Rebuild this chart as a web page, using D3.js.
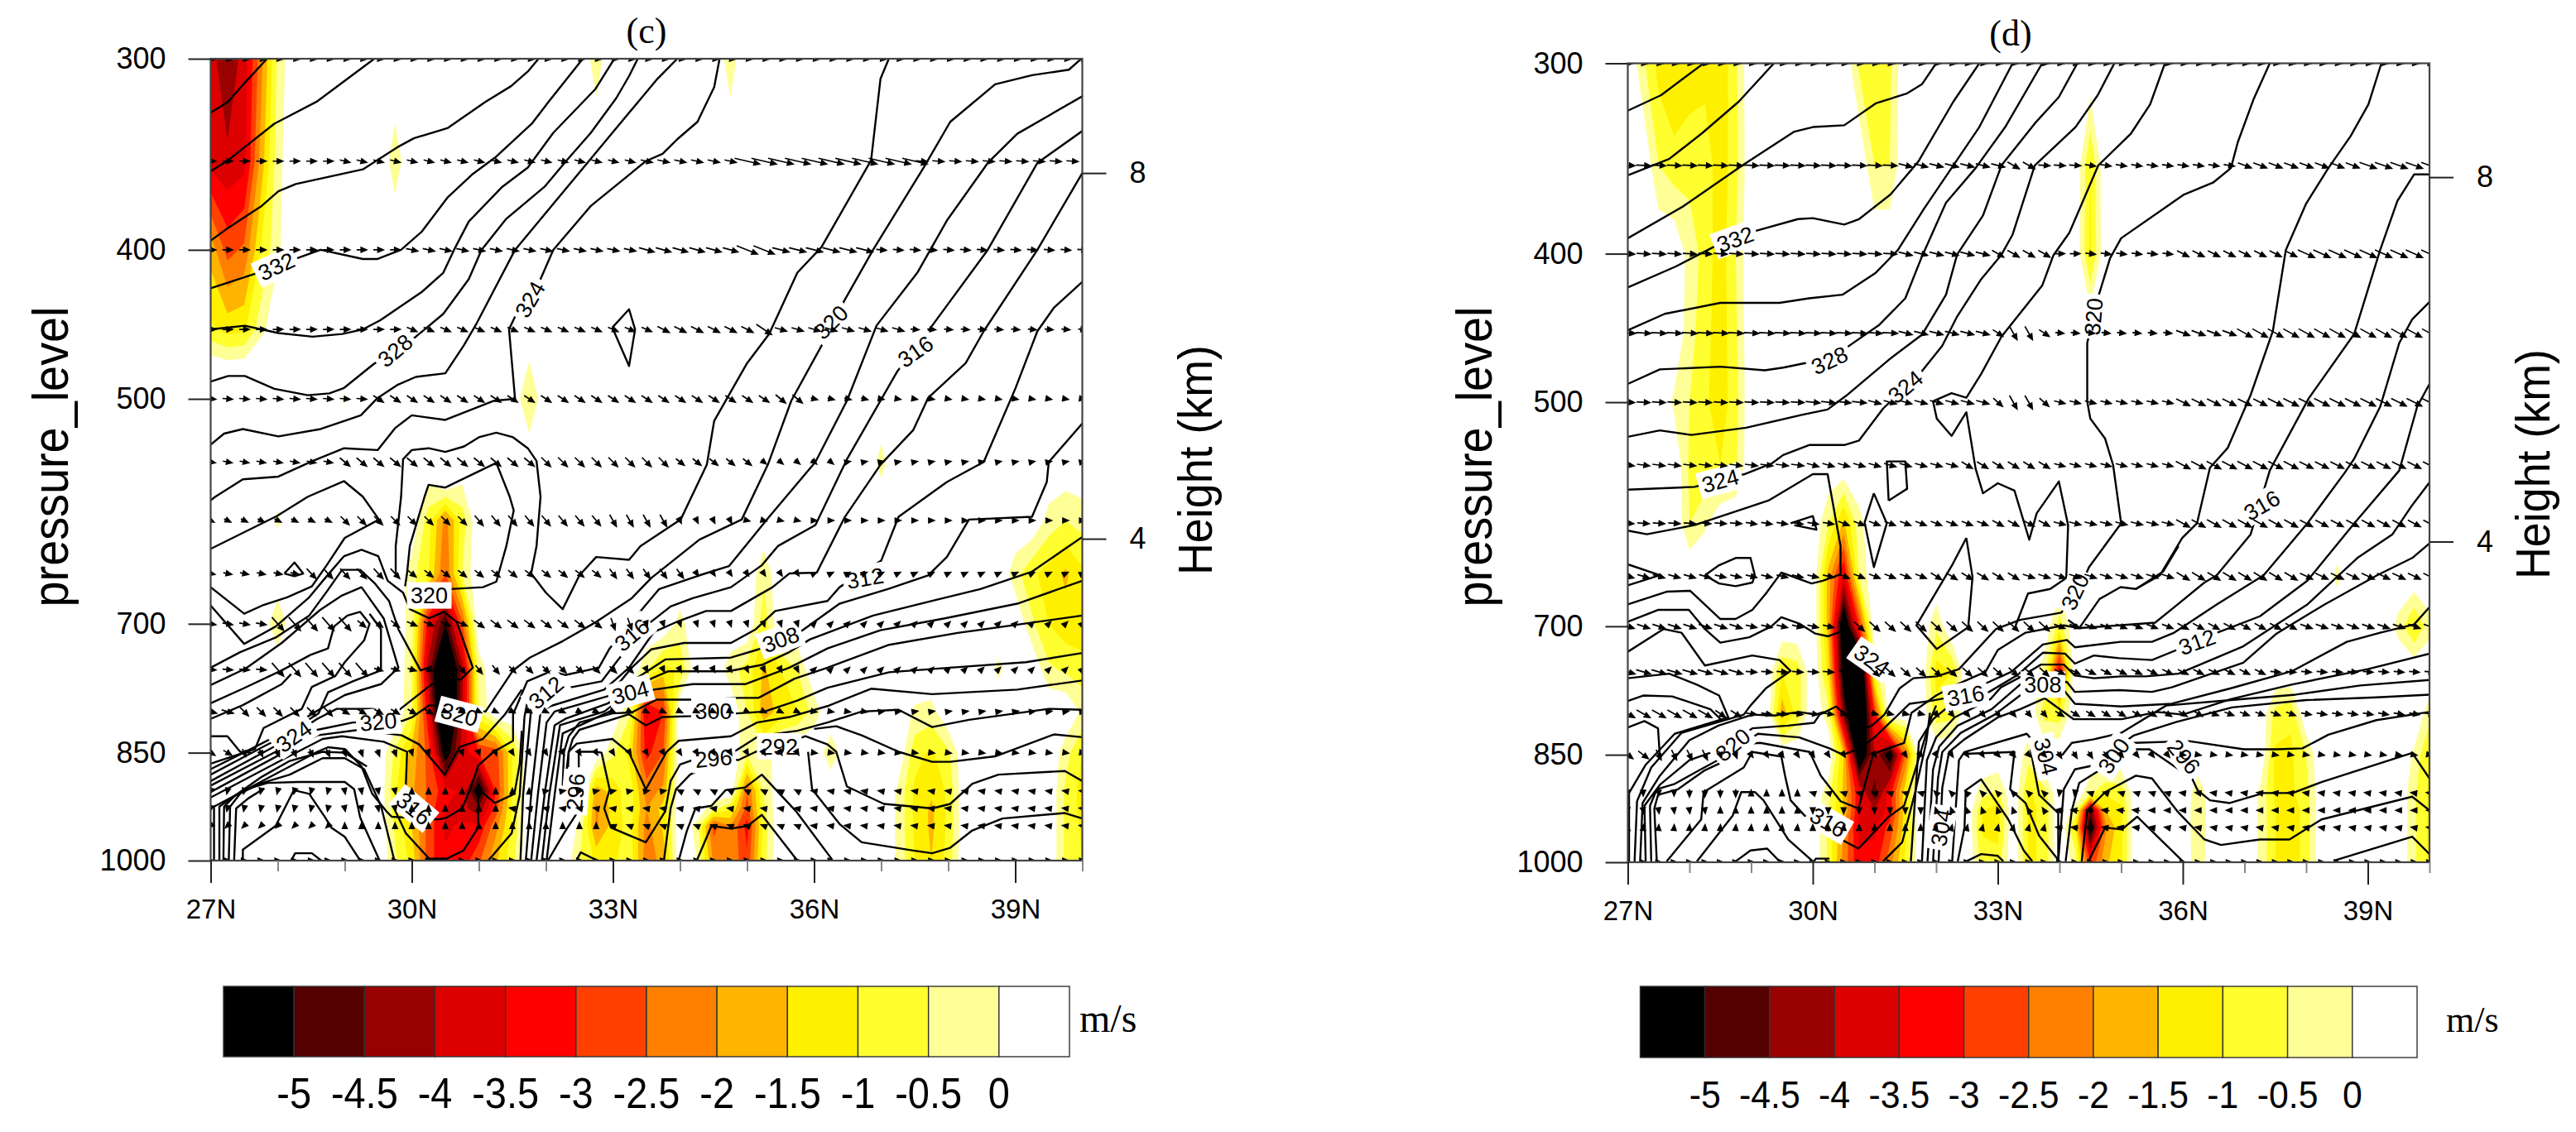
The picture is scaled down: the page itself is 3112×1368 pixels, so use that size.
<!DOCTYPE html>
<html>
<head>
<meta charset="utf-8">
<title>pressure_level cross sections</title>
<script src="https://cdn.jsdelivr.net/npm/d3@7"></script>
<style>
body { margin: 0; background: #fff; }
text { font-family: "Liberation Sans", Arial, sans-serif; fill: #000; }
.serif { font-family: "Liberation Serif", "Times New Roman", serif; }
</style>
</head>
<body>
<svg id="chart" width="3112" height="1368"></svg>
<script>
// pressure levels of the grid and the height (km) each one sits at on the right axis
var levels = [300, 350, 400, 450, 500, 550, 600, 650, 700, 750, 800, 850, 900, 925, 950, 1000];
var levelHeight = [9.25, 8.13, 7.16, 6.29, 5.53, 4.84, 4.2, 3.62, 3.07, 2.57, 2.11, 1.66, 1.24, 1.05, 0.86, 0.48];

var pressureTicks = [300, 400, 500, 700, 850, 1000];
var heightTicks = [4, 8];
var latTicks = [27, 30, 33, 36, 39];
var latMinor = [28, 29, 31, 32, 34, 35, 37, 38, 40];

var bandColors = ["#000000", "#550000", "#990000", "#dd0000", "#ff0000", "#ff4000", "#ff8000", "#ffb400", "#fff000", "#ffff30", "#ffff98", "#ffffff"];
var bandLabels = ["-5", "-4.5", "-4", "-3.5", "-3", "-2.5", "-2", "-1.5", "-1", "-0.5", "0"];
// descent thresholds, lightest first, and their fill
var shadeThresholds = [0, 0.5, 1, 1.5, 2, 2.5, 3, 3.5, 4, 4.5, 5];
var shadeFills = ["#ffff98", "#ffff30", "#fff000", "#ffb400", "#ff8000", "#ff4000", "#ff0000", "#dd0000", "#990000", "#550000", "#000000"];

// vertical velocity, sparse: [level, first lat, values every 0.25 deg...]. everything else is weak ascent
var shadeC = [
    [300, 27, -3.8, -4.4, -3.8, -2.2, -0.4], [300, 32.75, -0.3], [300, 34.75, -0.3],
    [350, 27, -3.7, -3.9, -3.7, -1.8, -0.2], [350, 29.75, -0.3],
    [400, 27, -1.7, -2.7, -2.4, -1, -0.1],
    [450, 27, -0.9, -1.2, -1.1, -0.2],
    [500, 31.75, -0.6], [500, 29, -0.05], [500, 27, 1.5, 1.5, 1.5, 1.5],
    [550, 30.5, 2], [550, 37, -0.2],
    [600, 28, -0.1], [600, 30.25, -0.8, -2.2, -0.8], [600, 39.5, -0.2, -0.5, -0.3],
    [650, 30, -0.3, -1, -2.5, -0.5], [650, 35.25, -0.4], [650, 39, -0.3, -0.9, -1.2, -1.6, -1.1],
    [700, 28, -0.5], [700, 30, -0.3, -3.4, -5, -2.6], [700, 34, -0.2], [700, 35.25, -0.8], [700, 39.25, -0.4, -1, -1.3, -1.3],
    [750, 30, -0.4, -4.2, -7, -4.2, -0.3], [750, 33.5, -0.4, -1.2, -0.9], [750, 34.75, -0.3, -0.7, -1.6, -1, -0.5], [750, 38.75, -0.15], [750, 39.5, -0.4, -0.6, -0.8],
    [800, 30, -0.5, -3.5, -7, -4, -0.5], [800, 33.25, -0.4, -3.6, -3], [800, 35, -0.5, -1.8, -1.3, -1, -0.3], [800, 37.5, -0.1, -0.2], [800, 40, -0.1],
    [850, 29.75, -0.6, -1.7, -2.7, -5.5, -3.8, -3, -2.8, -1], [850, 33, -0.4, -1.2, -3.2, -2.5], [850, 35, -0.4, -0.4], [850, 36.25, -0.4], [850, 37.5, -0.8, -1.1, -0.6], [850, 39.75, -0.3, -1],
    [900, 29.75, -0.9, -1.9, -2.6, -3.3, -3.6, -5.6, -3, -1], [900, 32.75, -1.8, -1.3, -0.7, -2.2, -1.9], [900, 35, -2.5, -0.5], [900, 37.25, -0.1, -1.1, -1.4, -0.9], [900, 39.75, -0.6, -1.2],
    [925, 29.75, -0.8, -1.7, -2.7, -3.5, -3.8, -4.4, -2.8, -0.9], [925, 32.75, -2.1, -1.3, -0.7, -2, -1.3], [925, 34.5, -0.4, -0.9, -2.7, -0.6], [925, 37.25, -0.1, -1.1, -1.6, -0.9], [925, 39.75, -0.6, -1.2],
    [950, 29.75, -0.6, -1.5, -2.7, -3.6, -3.4, -3.4, -2.2, -0.9], [950, 32.5, -0.1, -2.1, -1.3, -0.8, -2.2, -1.4], [950, 34.25, -0.2, -2.7, -2, -3.2, -0.8], [950, 37.25, -0.1, -1.1, -1.6, -0.9], [950, 39.75, -0.6, -1.1],
    [1000, 29.75, -0.4, -1.2, -2.8, -3.4, -3.3, -2.6, -1.6, -0.7], [1000, 32.5, -0.5, -1.1, -1.1, -0.7, -2.3, -1.8], [1000, 34.25, 0, -2.1, -2.1, -2.9, -0.7], [1000, 37.25, -0.1, -1, -1.5, -0.8], [1000, 39.75, -0.6, -1]
];
var shadeD = [
    [300, 27.25, -0.4, -1.2, -1.5, -1.3, -1.2, -1.4, -0.6], [300, 30.75, -0.6, -0.6, -0.6],
    [350, 27.5, -0.5, -0.8, -0.7, -0.7, -1.3, -0.7], [350, 31, -0.5, -0.5], [350, 34.5, -1],
    [400, 28, -0.2, -0.7, -1.3, -0.5], [400, 34.5, -1.1],
    [450, 28, -0.3, -0.8, -1.3, -0.6],
    [500, 27.75, -0.1, -0.5, -0.9, -1.3, -0.7],
    [550, 28, -0.6, -0.9, -1, -0.6],
    [600, 28, -0.5, -0.1], [600, 30.25, -0.5, -1.6, -0.2],
    [650, 30.25, -1.7, -3.6, -0.5], [650, 38.5, -0.15],
    [700, 30.25, -1.7, -6, -3], [700, 32, -0.4], [700, 34, -0.8], [700, 39.5, -0.2, -1.1, -0.2],
    [750, 29.5, -1, -0.8], [750, 30.25, -1.2, -5.5, -7, -0.7], [750, 32, -1.2, -1], [750, 33.75, -0.3, -3.6],
    [800, 29.5, -1.8, -0.8], [800, 30.25, -0.3, -4.5, -7, -3], [800, 32, -0.8, -0.7], [800, 33.75, -0.7, -0.8], [800, 37.5, -0.7, -0.9], [800, 40, -0.3],
    [850, 30.5, -1.5, -6, -4, -5.5, -2.5], [850, 33.5, -0.3], [850, 37.5, -1.1, -1.1, -0.5], [850, 39.75, -0.1, -1.1],
    [900, 30.25, -0.3, -1.6, -3.4, -4.8, -3.2, -1.2], [900, 32.75, -0.3, -0.6], [900, 33.5, -1.1, -0.7], [900, 34.5, -0.4, -0.9, -0.8], [900, 36.25, -0.4], [900, 37.25, -0.1, -1.1, -1.1, -0.7], [900, 39.75, -0.4, -1.1],
    [925, 30.25, -0.5, -1.5, -3.5, -4, -3.3, -1.2], [925, 32.75, -1, -1.2], [925, 33.5, -1.1, -0.9], [925, 34.25, -0.2, -4.6, -1.5, -1.1], [925, 36.25, -0.5], [925, 37.25, -0.1, -1, -1.3, -0.8], [925, 39.75, -0.4, -1.1],
    [950, 30.25, -0.6, -2, -3.6, -3.6, -2.8, -1.2], [950, 32.75, -1.1, -1.2], [950, 33.5, -1.1, -0.9], [950, 34.25, -1, -5.5, -2.1, -1.1], [950, 36.25, -0.5], [950, 37.25, -0.1, -1, -1.3, -0.8], [950, 39.75, -0.4, -1.1],
    [1000, 30.25, -0.6, -2.2, -3.4, -3.3, -2.2, -0.9], [1000, 32.75, -0.7, -0.8], [1000, 33.5, -1.1, -0.9], [1000, 34.25, -0.2, -3, -1.6, -1.1], [1000, 36.25, -0.4], [1000, 37.25, -0.1, -1, -1.3, -0.8], [1000, 39.75, -0.4, -1.1]
];

// wind along each level as runs: [level, [lat from, lat to, u, w], ...]
var windC = [
    [300, [27, 40.1, 12, -1]],
    [350, [27, 29, 12, 0], [29, 33.5, 12, -3], [33.5, 35, 14, -3], [35, 37.6, 30, -7], [37.6, 40.1, 14, -1]],
    [400, [27, 30, 12, 0], [30, 33.5, 14, -3], [33.5, 35, 18, -5], [35, 35.5, 25, -10], [35.5, 37, 20, -5], [37, 40.1, 12, -1]],
    [450, [27, 30, 12, 0], [30, 33.75, 12, -5], [33.75, 35.25, 14, -7], [35.25, 35.5, 18, -12], [35.5, 37.5, 14, -4], [37.5, 40.1, 10, -1]],
    [500, [27, 29.5, 12, -1], [29.5, 35.5, 12, -8], [35.5, 36, 12, -10], [36, 37, 8, -2], [37, 40.1, 6, -1]],
    [550, [27, 29, 11, -2], [29, 32, 12, -10], [32, 34, 11, -11], [34, 35.25, 10, -8], [35.25, 36.5, 6, -5], [36.5, 40.1, 5, 1]],
    [600, [27, 29, 8, -4], [29, 31, 10, -10], [31, 33, 10, -12], [33, 34, 8, -14], [34, 35, 3, -6], [35, 36, 4, -1], [36, 40.1, 5, 0]],
    [650, [27, 28.5, 10, -2], [28.5, 30, 11, -12], [30, 33, 10, -8], [33, 34.25, 8, -11], [34.25, 36, 2, -3], [36, 40.1, 4, 2]],
    [700, [27, 28, 12, -2], [28, 29.25, 14, -16], [29.25, 30, 10, -8], [30, 31, 12, -5], [31, 33, 12, -9], [33, 33.5, 5, -14], [33.5, 36, 1, -3], [36, 40.1, 3, 3]],
    [750, [27, 28, 12, -1], [28, 29.5, 14, -16], [29.5, 30.5, 10, -3], [30.5, 31.5, 8, -10], [31.5, 33.5, 8, -8], [33.5, 36, 1, -2], [36, 40.1, 3, 3]],
    [800, [27, 27.5, 14, -4], [27.5, 29, 10, -10], [29, 30.5, 10, -6], [30.5, 33, 6, -3], [33, 36, 2, -1], [36, 37, 6, -1], [37, 40.1, 7, 1]],
    [850, [27, 27.5, 10, -6], [27.5, 29, 4, -9], [29, 30, 3, -8], [30, 31.5, 2, -6], [31.5, 36, 3, -5], [36, 40.1, 7, -1]],
    [900, [27, 29, -1, -4], [29, 30, 1, -5], [30, 32, 0, 5], [32, 34, 5, 1], [34, 36, -4, 2], [36, 40.1, -6, 1]],
    [925, [27, 29, -1, -5], [29, 30, 1, -5], [30, 31.5, 0, 6], [31.5, 33, -5, 1], [33, 36, -6, 1], [36, 40.1, -7, 1]],
    [950, [27, 29, -3, -3], [29, 31, 0, 4], [31, 33, 0, 6], [33, 36, -5, 2], [36, 40.1, -7, 1]],
    [1000, [27, 40.1, 5, 0]]
];
var windD = [
    [300, [27, 40.1, 10, -1]],
    [350, [27, 31.5, 17, -1], [31.5, 33.25, 16, -4], [33.25, 33.75, 14, -8], [33.75, 34.5, 14, -1], [34.5, 37, 13, -2], [37, 39, 16, -6], [39, 40.1, 20, -7]],
    [400, [27, 31.5, 16, -1], [31.5, 33, 16, -4], [33, 34, 14, -8], [34, 34.5, 12, 0], [34.5, 36, 12, -1.5], [36, 38, 14, -7], [38, 40.1, 20, -9]],
    [450, [27, 31.5, 18, -1], [31.5, 33, 16, -4], [33, 33.25, 12, -8], [33.25, 33.75, 9, -16], [33.75, 34, 12, -8], [34, 36, 10, -1], [36, 37, 16, -6], [37, 40.1, 18, -10]],
    [500, [27, 30, 16, -1], [30, 31, 17, -2], [31, 33, 15, -4], [33, 33.25, 11, -10], [33.25, 33.75, 9, -16], [33.75, 34, 11, -10], [34, 36, 13, -3], [36, 37.5, 16, -8], [37.5, 40.1, 18, -9]],
    [550, [27, 30, 15, -2], [30, 32.5, 14, -4], [32.5, 34, 13, -8], [34, 36, 13, -3.5], [36, 38, 17, -9], [38, 40.1, 16, -8]],
    [600, [27, 29, 14, -1], [29, 30.5, 13, -2], [30.5, 33, 13, -5], [33, 34, 13, -7], [34, 36, 14, -3.5], [36, 38, 16, -9], [38, 40.1, 15, -8]],
    [650, [27, 28.5, 14, -4], [28.5, 30.5, 13, -3], [30.5, 32, 13, -5], [32, 33.5, 13, -8], [33.5, 36, 14, -4.5], [36, 38, 15, -9], [38, 40.1, 15, -7]],
    [700, [27, 29, 15, -5], [29, 30.5, 13, -3], [30.5, 34, 12, -11], [34, 36, 13, -5], [36, 38, 13, -7], [38, 40.1, 14, -5]],
    [750, [27, 29, 17, -5], [29, 30.5, 13, -1], [30.5, 31, 12, -3], [31, 34, 11, -10], [34, 37.5, 12, -6], [37.5, 40.1, 12, -1]],
    [800, [27, 28.5, 16, -9], [28.5, 29, 12, -8], [29, 30.5, 13, -2], [30.5, 32, 8, -2], [32, 34, 6, -7], [34, 36.5, 10, -6], [36.5, 38, 11, -4], [38, 40.1, 12, -2]],
    [850, [27, 27.5, 12, -9], [27.5, 28.5, 6, -12], [28.5, 29, 3, -8], [29, 30, 4, -6], [30, 33, 2, -3], [33, 34, 5, -5], [34, 35, 5, -8], [35, 36, 5, -6], [36, 40.1, 6, -1]],
    [900, [27, 28, 0, -5], [28, 29, 0, -9], [29, 30, 0, 5], [30, 32, -3, 1], [32, 34, -2, 2], [34, 34.5, -1, -6], [34.5, 36, -3, 1], [36, 40.1, -7, 1]],
    [925, [27, 28.5, 1, -7], [28.5, 30, 0, 5], [30, 32, 0, -7], [32, 33.5, -1, 3], [33.5, 34, -2, 3], [34, 35.5, -9, 1], [35.5, 40.1, -6, 0]],
    [950, [27, 30, 0.5, 6], [30, 32, 0, 6], [32, 34, 1, 4], [34, 35.5, -8, 1], [35.5, 40.1, -6, 1]],
    [1000, [27, 40.1, 5, 0]]
];

// equivalent potential temperature isolines, [lat, height km]
var thetaC = [
    [[27,8.66],[27.26,8.78],[27.5,8.98],[27.84,9.25]],
    [[27,8.02],[27.26,8.14],[27.95,8.54],[28.58,8.78],[29.44,9.25]],
    [[27,7.26],[27.26,7.4],[27.76,7.64],[28.01,7.8],[28.27,7.88],[29.27,8.04],[29.78,8.28],[30.03,8.38],[30.53,8.49],[31.1,8.78],[31.48,8.95],[31.73,9.11],[31.89,9.25]],
    [[27,6.74],[27.67,6.9],[28.33,7.08],[28.64,7.16],[29.27,7.06],[29.49,7.06],[29.84,7.16],[30.15,7.36],[30.53,7.73],[30.91,7.99],[31.26,8.18],[31.79,8.54],[32.04,8.78],[32.55,9.25]],
    [[27,6.29],[27.51,6.33],[28.01,6.25],[28.52,6.21],[28.96,6.24],[29.27,6.29],[29.53,6.39],[30.15,6.7],[30.47,6.91],[30.63,7.16],[30.85,7.47],[31.35,7.85],[31.73,8.06],[32.11,8.44],[32.74,8.92],[33.02,9.25]],
    [[27,5.72],[27.26,5.78],[27.51,5.78],[27.95,5.64],[28.45,5.57],[28.77,5.59],[28.99,5.65],[29.43,5.91],[30.06,6.21],[30.47,6.46],[30.85,6.84],[31.04,7.16],[31.41,7.5],[31.98,7.85],[32.3,8.13],[32.67,8.44],[33.05,8.82],[33.24,9.06],[33.37,9.25]],
    [[33.96,9.25],[33.65,9.02],[32.64,8.13],[31.54,7.16],[30.97,6.36],[30.78,6.12],[30.5,5.81],[30.06,5.77],[29.78,5.68],[29.49,5.54],[29.24,5.35],[28.64,5.2],[28.01,5.12],[27.48,5.2],[27.2,5.15],[27,5.03]],
    [[34.59,9.25],[34.51,8.94],[34.26,8.56],[33.96,8.37],[33.74,8.21],[33.49,8.13],[32.67,7.64],[32.11,7.16],[31.92,6.84],[31.54,6.43],[31.45,6.29],[31.54,5.53],[31.23,5.51],[30.5,5.3],[30,5.35],[29.75,5.21],[29.49,4.97],[28.99,4.99],[28.52,4.85],[28.01,4.68],[27.48,4.65],[27.07,4.46],[27,4.42]],
    [[37.12,9.26],[36.99,9.03],[36.85,8.14],[36.11,7.19],[35.75,6.91],[35.33,6.24],[35,5.92],[34.51,5.29],[34.4,4.81],[34.01,4.21],[33.74,4.08],[33.41,3.92],[33.24,3.77],[32.75,3.8],[32.5,3.6],[32.25,3.23],[32,3.41],[31.78,3.62],[31.86,3.92],[31.92,4.46],[31.86,4.85],[31.73,4.99],[31.51,5.11],[31.26,5.16],[31,5.11],[30.78,5.01],[30.5,4.95],[30.25,4.99],[30,4.97],[29.87,4.87],[29.84,4.46],[29.76,3.92],[29.76,3.62]],
    [[29.9,3.48],[29.93,3.63],[29.97,3.92],[30.19,4.46],[30.25,4.59],[30.5,4.56],[30.78,4.66],[31.26,4.83],[31.46,4.46],[31.52,4.31],[31.41,3.92],[31.26,3.53],[31.06,3.47],[30.57,3.45]],
    [[28.1,3.62],[28.25,3.74],[28.38,3.62],[28.25,3.59],[28.1,3.62]],
    [[32.99,6.31],[33.24,6.51],[33.33,6.29],[33.24,5.89],[32.99,6.31]],
    [[27,3.89],[27.99,4.25],[28.45,4.46],[28.99,4.63],[29.27,4.46],[29.51,4.21],[29,4.01],[28.73,3.71],[28.51,3.48],[28.14,3.36],[27.77,3.27],[27.5,3.18],[27,3.47]],
    [[27,3.27],[27.5,2.85],[27.97,3.04],[28.47,3.36],[28.73,3.59],[28.99,3.81],[29.25,3.88],[29.5,3.81],[29.64,3.54],[29.87,3.41],[29.97,3.23],[30.26,3.13],[30.48,3.2],[30.67,3.09],[30.91,2.59],[30.73,2.46],[30.61,2.47],[30.28,2.4],[29.78,2.11],[29.41,2.14],[28.88,2.14],[28.59,2.03],[27.93,1.72],[27,1.35]],
    [[27,2.59],[27.44,2.76],[27.97,2.92],[28.47,3.16],[28.73,3.42],[28.96,3.66],[29.23,3.66],[29.45,3.51],[29.66,3.32],[29.8,3.01],[30.13,2.56],[30.3,2.6]],
    [[27,2.4],[27.52,2.58],[28.06,2.86],[28.63,3.22],[28.96,3.38],[29.25,3.47],[29.58,3.13],[29.8,2.59],[29.54,2.41],[29,2.29],[28.71,2.17],[28.57,2.11],[27.97,1.84],[27.68,1.73],[27,1.48]],
    [[27,2.2],[27.48,2.36],[28.06,2.56],[28.49,2.73],[28.75,2.8],[28.84,3.04],[29.04,3.16],[29.23,3.2],[29.37,3.07],[29.29,2.89],[29,2.65],[28.86,2.5],[28.51,2.38],[28.36,2.14],[27.79,1.93],[27.66,1.7],[27,1.54]],
    [[27,1.84],[27.25,1.84],[27.44,1.67],[27.6,1.66]],
    [[29.37,3.18],[29.54,3.01],[29.54,2.56],[29.12,2.44],[28.75,2.32],[28.61,2.09],[28.01,1.81],[27.77,1.72],[27,1.42]],
    [[27,2.03],[27.48,2.18],[28.06,2.41],[28.2,2.52]],
    [[40,9.26],[39.8,9.13],[39.25,9.07],[38.7,8.97],[38.03,8.56],[37.65,8.08],[36.88,7.16],[36.44,6.59],[36.11,6.11],[35.66,5.51],[35.31,4.81],[34.92,4.21],[34.29,3.99],[33.57,3.57],[33.28,3.35],[32.75,3.09],[32.25,2.88],[31.76,2.7],[31.51,2.56],[31.1,2.11],[30.26,2.18],[30.01,2.05],[29.87,2.01],[29.12,1.99],[28.59,1.91],[27.97,1.67],[27,1.3]],
    [[31.64,2.35],[31.39,2.08],[31.06,1.81],[30.71,1.72],[30.49,1.42],[30.11,1.75],[29.85,1.85],[29.21,1.91],[28.59,1.85],[28.01,1.63],[27,1.23]],
    [[29.91,1.29],[29.93,1.67],[29.58,1.78],[28.96,1.84],[28.67,1.81],[28.06,1.58],[27,1.17]],
    [[27.13,0.48],[27.13,1.07],[27.77,1.4],[28.18,1.57],[28.67,1.67],[29,1.66],[29.33,1.51]],
    [[40,8.84],[39.03,8.43],[38.59,8.11],[37.98,7.48],[37.54,6.91],[36.93,6.33],[36.49,5.51],[36.02,4.84],[35.33,4.24],[34.73,3.7],[34.29,3.6],[33.69,3.45],[33.32,3.13],[32.95,2.8],[32.79,2.59],[32.29,2.51],[32.07,2.55],[31.72,2.44],[31.51,2.08],[31.51,1.79],[31.22,1.67],[30.99,1.52],[30.87,1.26],[30.75,1.05],[30.52,0.95],[30.4,0.93],[29.7,0.96],[29.62,1.02],[29.41,1.21],[29.25,1.51],[29,1.7],[28.75,1.72],[28.59,1.67],[28.18,1.51],[27.05,1.07],[27.05,0.48]],
    [[29.74,0.48],[29.54,1.08],[29.29,1.48],[29,1.6],[28.67,1.6],[28.18,1.42],[27.77,1.33],[27.36,1.19],[27.2,1.07],[27.19,0.48]],
    [[29.52,0.48],[29.23,0.95],[29.14,1.26],[29,1.34],[28.3,1.34],[27.85,1.33],[27.48,1.25],[27.29,1.07],[27.27,0.48]],
    [[29.23,0.48],[29,0.74],[28.8,0.84],[28.71,0.95],[28.47,1.21],[28.24,1.25],[27.97,0.86],[27.48,0.6],[27.48,0.48]],
    [[27.35,0.48],[27.38,1.05],[27.56,1.16],[27.8,1.27]],
    [[28.2,0.48],[28.26,0.56],[28.51,0.56],[28.65,0.48]],
    [[29.7,1.11],[29.91,0.78],[30.26,0.5],[30.52,0.5],[30.77,0.59],[30.99,0.84],[30.99,1.26],[31.24,1.11],[31.53,1.21],[31.61,1.54],[31.64,1.9]],
    [[31.14,0.48],[31.49,0.78],[31.61,1.2],[31.68,2.05],[31.72,2.2]],
    [[40,8.46],[39.33,8.11],[38.59,7.16],[37.76,6.33],[37.24,5.83],[36.49,4.87],[36.02,4.15],[35.46,3.92],[35.22,3.71],[34.76,3.47],[34.19,3.35],[33.86,3.26],[33.53,3.07],[33.08,2.68],[32.83,2.44],[32.34,2.37],[31.88,2.29],[31.78,2.14],[31.66,1.2],[31.62,0.48]],
    [[40,8],[39.33,7.16],[38.53,6.27],[38.26,5.92],[37.7,5.54],[37.48,5.19],[36.99,4.81],[36.46,4.24],[36.04,3.63],[35.63,3.62],[35.38,3.47],[34.76,3.21],[34.39,3.21],[33.98,3.1],[33.61,2.98],[33.24,2.59],[32.87,2.35],[32.07,2.17],[31.92,2.11],[31.78,1.2],[31.7,0.48]],
    [[40,6.81],[39.58,6.53],[39.33,6.27],[39,5.64],[38.53,4.84],[37.98,4.62],[37.26,4.24],[37,3.76],[36.38,3.47],[36.2,3.32],[35.42,3.21],[35.13,3.01],[34.76,2.86],[34.06,2.86],[33.57,2.79],[33.28,2.59],[32.93,2.28],[32.13,2.11],[32.01,1.99],[31.88,1.2],[31.78,0.48]],
    [[40,5.26],[39.5,4.84],[39.47,4.62],[39.25,4.24],[38.31,4.21],[37.98,3.8],[37.7,3.6],[37.1,3.45],[36.38,3.29],[35.83,3],[35.17,2.79],[34.76,2.7],[33.78,2.68],[33.28,2.44],[32.93,2.2],[32.29,2.03],[32.13,1.96],[31.98,1.2],[31.86,0.48]],
    [[40,4.02],[39.25,3.64],[38.48,3.45],[37.76,3.32],[36.88,3.16],[35.94,2.9],[35.63,2.76],[35.22,2.62],[34.72,2.55],[33.82,2.55],[33.57,2.47],[33.3,2.35],[32.87,2.11],[32.21,1.96],[32.05,1.2],[31.94,0.48]],
    [[40,3.54],[39.03,3.29],[37.95,3.13],[36.99,3],[36.2,2.8],[35.63,2.59],[34.97,2.41],[34.19,2.41],[33.61,2.35],[33.3,2.3],[32.95,2.11],[32.25,1.87],[32.13,1.2],[32.01,0.48]],
    [[40,3.16],[39.03,3.06],[38.14,2.97],[37.12,2.84],[36.2,2.59],[35.71,2.47],[35.17,2.26],[34.87,2.26],[34.27,2.24],[33.98,2.24],[33.65,2.24],[33.28,2.1],[32.99,2.09],[32.5,1.99],[32.34,1.84],[32.27,1.67],[32.25,1.3]],
    [[40,2.75],[39.16,2.65],[38.03,2.59],[37.12,2.54],[36.2,2.37],[35.75,2.23],[35.26,2.11],[34.85,2.09],[34.19,2.06],[33.74,2.05],[33.49,1.96],[33.24,2.08],[32.5,1.91],[32.4,1.81],[32.34,1.67],[32.33,1.5]],
    [[40,2.45],[39.03,2.35],[37.76,2.3],[36.85,2.36],[36.2,2.17],[35.63,2.05],[35.15,1.99],[34.76,1.84],[33.98,1.79],[33.8,1.67],[33.49,1.26],[33.24,1.66],[32.99,1.81],[32.46,1.76],[32.34,1.67],[32.31,1.48],[32.44,1.23],[32.48,1.02],[32.27,0.78],[32.03,0.48]],
    [[32.49,1.5],[32.49,1.67],[32.75,1.67],[32.83,1.66],[32.95,1.26],[32.87,1.05],[32.97,0.84],[33.49,0.68],[33.78,1.02],[33.86,1.35],[34,1.53],[34.15,1.57],[34.5,1.6],[34.87,1.58],[35.13,1.67],[35.48,1.73],[35.87,1.84],[36.2,1.75],[36.33,1.67],[36.49,1.29],[37.04,1.1],[37.48,1.07],[37.76,1.05],[38.03,1.1],[38.36,1.32],[38.75,1.42],[39.74,1.46],[40,1.35]],
    [[35.91,1.67],[35.97,1.26],[36.38,0.88],[36.71,0.68],[37.48,0.59],[37.76,0.56],[38.03,0.62],[38.36,0.81],[38.81,0.94],[39.74,1],[40,0.94]],
    [[40,2.13],[39.5,2.14],[38.31,2.02],[37.76,1.94],[37.26,2.13],[36.71,2.11],[36.2,1.99],[35.75,1.9],[35.17,1.84],[34.85,1.69],[34.5,1.55],[34.15,1.42],[33.94,1.26],[33.86,1.05],[33.76,0.48]],
    [[40,1.83],[39.58,1.86],[38.7,1.62],[38.03,1.56],[37.76,1.56],[37.26,1.67],[36.71,1.85],[36.33,1.95],[36,1.92]],
    [[33.98,0.48],[34.1,0.8],[34.23,1.05],[34.47,1.08],[34.68,1.25],[34.97,1.28],[35.22,1.42],[35.73,1.02],[36.27,0.49]],
    [[34.25,0.48],[34.47,0.86],[34.76,0.83],[35.01,0.86],[35.22,0.98],[35.75,0.48]],
    [[32.46,0.49],[32.52,0.57],[32.77,0.48]]
];
var thetaD = [
    [[27,8.73],[27.54,8.9],[28.23,9.25]],
    [[27,8.02],[27.67,8.2],[28.2,8.48],[28.8,8.83],[29.37,9.25]],
    [[27,7.33],[27.9,7.68],[28.86,8.13],[29.7,8.5],[30,8.55],[30.51,8.57],[31.02,8.81],[31.53,8.92],[31.77,9.02],[32,9.25]],
    [[27,6.79],[27.78,7.02],[28.38,7.23],[29.07,7.41],[29.76,7.54],[30,7.55],[30.51,7.48],[30.75,7.54],[31.26,7.81],[31.71,8.17],[32.28,8.83],[32.7,9.25]],
    [[27,6.32],[27.6,6.5],[28.5,6.62],[29.46,6.62],[29.94,6.67],[30.48,6.71],[31.02,6.95],[31.38,7.2],[31.8,7.65],[32.22,8.07],[32.7,8.55],[33.24,9.25]],
    [[27,5.73],[27.52,5.89],[28.5,5.92],[29.22,5.88],[29.52,5.91],[29.88,5.96],[30.57,6.14],[31.08,6.38],[31.5,6.67],[31.77,7.13],[32.16,7.72],[32.64,8.1],[33.12,8.55],[33.72,9.25]],
    [[27,5.15],[27.52,5.22],[28.03,5.17],[28.92,5.25],[29.82,5.39],[30.24,5.45],[30.54,5.6],[31.26,6.01],[31.77,6.27],[32.16,6.71],[32.34,7.15],[32.76,7.58],[33.06,8.13],[33.6,8.59],[33.99,8.88],[34.29,9.25]],
    [[27,4.57],[28.08,4.6],[28.5,4.67],[28.89,4.74],[29.34,4.86],[29.52,4.95],[29.94,5.06],[30.51,5.06],[30.75,5.11],[31.14,5.46],[31.77,5.87],[32.1,6.15],[32.34,6.47],[32.73,6.88],[33.06,7.15],[33.24,7.37],[33.6,8.13],[34.26,8.55],[34.62,8.9],[34.89,9.25]],
    [[35.71,9.25],[35.47,8.8],[35.16,8.48],[34.63,8.13],[34.16,7.39],[33.9,7.14],[33.72,6.81],[33.06,6.25],[32.73,5.84],[32.49,5.58],[32.25,5.63],[31.95,5.54],[32.01,5.35],[32.25,5.16],[32.49,5.42],[32.64,4.8],[32.76,4.53],[33,4.64],[33.27,4.56],[33.51,4.02],[33.63,4.31],[33.99,4.66],[34.14,4.18],[34.11,3.6],[33.85,3.48],[33.49,3.43],[33.29,3.08]],
    [[37.41,9.25],[37.15,8.86],[36.89,8.38],[36.78,8.1],[36.49,7.94],[36.02,7.81],[35,7.33],[34.82,7.11],[34.63,6.69],[34.55,6.47],[34.45,6.18],[34.45,5.54],[34.5,5.35],[34.74,5.13],[34.87,4.84],[35,4.2],[34.48,3.72],[34.42,3.63],[34.25,3.45],[34.03,3.22],[33.36,3.14],[32.97,3.04],[32.37,2.6],[32.01,2.52],[31.63,2.5],[31.41,2.39],[31.16,2.1],[30.96,1.98],[30.78,1.93],[30.38,2.19],[30.11,2.1],[30.02,2.01],[29.6,1.98],[29.02,1.95],[28.5,1.72],[28,1.6],[27.52,1.33],[27.27,1.1],[27.29,0.49]],
    [[39.22,9.25],[39.01,8.8],[38.72,8.45],[38.36,8.1],[38,7.71],[37.67,7.2],[37.46,6.31],[37.1,5.61],[36.73,5.03],[36.44,4.81],[36.23,4.2],[35.99,4.04],[35.63,3.63],[35.24,3.48],[34.99,3.5],[34.65,3.37],[34.32,3.05],[34.14,3.14]],
    [[40,8.03],[39.75,8.03],[39.48,7.74],[39.2,7.2],[38.78,6.28],[38.04,5.57],[37.41,4.78],[37.1,4.08],[36.55,3.63],[36.35,3.55],[35.88,3.29],[35.55,3.11],[34.96,3.08],[34.32,3.05],[34.07,3.08],[33.45,3],[33,2.81],[32.8,2.57],[32.3,2.42],[32,2.31],[31.6,2.12],[31.48,1.79],[30.98,1.67],[30.74,1.07],[30.45,1.15],[30.13,1.43],[29.95,1.69],[29.15,1.79],[28.7,1.77],[28.63,1.61],[28.25,1.49],[27.81,1.28],[27.49,1.22],[27.43,1.07],[27.47,0.49]],
    [[40,6.63],[39.72,6.44],[39.51,6.18],[39.2,5.48],[38.78,4.91],[38.62,4.75],[38.02,4.2],[37.31,3.63],[36.55,3.31],[35.86,3],[35.5,2.9],[34.99,2.9],[34.25,2.84],[34.12,2.92],[33.73,2.87],[33.22,2.57],[32.86,2.46],[32.3,2.3],[31.9,2.25],[31.57,2.22],[31,1.85],[30.76,1.73],[30.49,1.66],[30.27,1.73],[29.78,1.85],[29.11,1.89],[28.57,1.64],[28.16,1.49],[27.76,1.34],[27.47,1.28],[27.36,1.1],[27.38,0.49]],
    [[40,5.73],[39.8,5.48],[39.51,4.78],[38.78,4.2],[38.02,3.57],[37.25,3.18],[36.52,2.99],[35.9,2.81],[35.5,2.7],[34.97,2.72],[34.56,2.75],[34.25,2.66],[34.09,2.77],[33.73,2.78],[33.33,2.54],[32.86,2.35],[32.2,2.19],[31.95,2.05],[31.72,1.8],[31.59,0.49]],
    [[40,4.65],[39.72,4.4],[39.4,4.08],[38.83,3.82],[38.02,3.31],[36.98,2.85],[35.93,2.55],[35.4,2.52],[35,2.52],[34.56,2.5],[34.25,2.53],[34.07,2.65],[33.7,2.65],[33.33,2.5],[33.05,2.4],[32.88,2.27],[32.3,2.07],[32,1.85],[31.85,1.6],[31.77,0.49]],
    [[40,3.98],[39.72,3.82],[39.15,3.63],[38.3,3.31],[37.52,2.99],[36.98,2.67],[35.82,2.4],[35.5,2.35],[34.97,2.37],[34.25,2.35],[34.12,2.46],[33.36,2.43],[32.9,2.16],[32.35,1.98],[32.05,1.75],[31.95,1.5],[31.86,0.49]],
    [[40,3.28],[39.75,3.09],[39.2,3],[38.66,2.9],[37.78,2.58],[36.78,2.39],[35.82,2.22],[35,2.19],[34.25,2.22],[34.07,2.37],[33.36,2.31],[32.95,2.1],[32.4,1.9],[32.1,1.69],[32.03,1.4],[31.95,0.49]],
    [[40,2.77],[39,2.6],[37.76,2.43],[36.78,2.27],[36,2.1],[35.59,2.13],[35.01,2.05],[34.23,2.05],[33.76,2.28],[33.36,2.16],[33,2.07],[32.46,1.83],[32.21,1.69],[32.1,1.3],[32.04,0.49]],
    [[40,2.48],[38.88,2.42],[37.83,2.32],[36.78,2.26],[35.73,2.2],[35,1.9],[34.56,1.83],[34.2,1.79],[34.05,1.66],[33.78,1.64],[33.47,1.89],[32.46,1.69],[32.37,1.6],[32.26,0.49]],
    [[40,2.32],[39.14,2.29],[38,2.26],[36.8,2.18],[35.9,2.02],[35.2,1.87],[34.95,1.75],[34.6,1.55],[34.25,1.5],[34.07,1.28],[33.98,0.49]],
    [[40,2.13],[39.14,2.04],[38.36,1.88],[37.94,1.73],[37.52,1.72],[36.99,1.72],[36.1,1.81],[35.21,1.79],[34.88,1.65],[34.65,1.49],[34.32,1.35],[34.2,1.05],[34.1,0.49]],
    [[34.36,0.49],[34.45,1.05],[34.74,1.25],[35.24,1.43],[35.5,1.4],[35.91,1.04],[36.35,0.73],[36.62,0.67],[37.25,0.73],[37.73,0.73],[38.25,0.95],[39.72,1.2],[40,1.05]],
    [[34.47,0.49],[34.74,0.86],[35.01,0.84],[35.26,0.98],[36,0.49]],
    [[35.24,1.72],[35.46,1.72],[36.15,1.4],[36.24,1.27],[36.44,1.16],[36.76,1.13],[37.31,1.24],[37.78,1.24],[38.25,1.36],[39.72,1.68],[40,1.4]],
    [[38.46,0.5],[39.72,0.76],[40,0.57]],
    [[32.46,1.67],[33.27,1.69],[33.2,1.28],[33.45,1.13],[33.67,0.77],[34,0.49]],
    [[33.53,1.72],[33.67,1.22],[33.98,1.02],[33.98,0.49]],
    [[32.35,0.49],[32.46,0.86],[32.48,1.27],[32.73,1.39],[33.17,0.95],[33.42,0.61],[33.56,0.49]],
    [[32.49,0.49],[32.73,0.57],[33,0.55],[33.09,0.49]],
    [[32.49,4.04],[32.25,3.73],[31.68,3.08],[32.01,2.82],[32.52,3.06],[32.59,3.61],[32.49,4.04]],
    [[30.99,4.53],[31.2,4.2],[30.99,3.72],[30.84,4.21],[30.99,4.53]],
    [[31.23,4.45],[31.2,4.88],[31.5,4.88],[31.53,4.58],[31.23,4.45]],
    [[29.64,4.2],[30,4.28],[30.06,4.13],[29.7,4.18]],
    [[35.93,3.95],[35.68,3.67],[35.24,3.48]],
    [[27,3.75],[27.52,3.63],[27,3.52]],
    [[28.25,3.63],[28.48,3.74],[28.75,3.82],[28.99,3.82],[29.06,3.63],[29.02,3.55],[28.75,3.51],[28.48,3.54],[28.25,3.63]],
    [[27,3.31],[27.63,3.45],[28.01,3.46],[28.5,3.15],[28.75,3.15],[29.02,3.25],[29.24,3.43],[29.49,3.66],[29.98,3.54],[30.16,3.57],[30.45,3.64],[30.45,3.95],[30.24,4.74],[30,4.74],[29.28,4.45],[28.08,4.18],[27.31,4.08],[27,4.12]],
    [[27,3.12],[27.49,3.25],[27.99,3.25],[28.25,3.04],[28.5,2.89],[28.97,2.95],[29.33,3.07],[29.49,3.17],[29.78,3.1],[30.04,2.99],[30.25,2.96],[30.45,3.01],[30.56,3.13]],
    [[27,2.79],[27.58,3.04],[27.87,3],[28.25,2.64],[29.02,2.75],[29.46,2.7],[29.64,2.58],[29.24,2.39],[28.99,2.2],[28.88,2.1],[27.87,1.9],[27.38,1.52],[27.15,1.15],[27.11,0.49]],
    [[27,2.5],[27.67,2.55],[28.12,2.43],[28.48,2.31],[28.63,2.07],[27.76,1.89],[27.29,1.55],[27.02,1.24],[27.02,0.49]],
    [[27,2.25],[27.25,2.31],[27.72,2.3],[28.34,2.16],[28.52,2.04]],
    [[27,1.96],[27.27,2.03],[27.49,1.95],[27.52,1.64]],
    [[27.2,0.49],[27.24,1.13],[27.52,1.43],[28,1.82],[28.47,1.98],[29.02,2.1],[29.37,2.09],[29.78,2.13],[30.04,2.1],[30.18,2.13]],
    [[27.63,0.49],[28.19,0.95],[28.23,1.25],[28.88,1.52],[29.02,1.69],[29.49,1.64],[29.55,1.43],[29.64,1.16],[29.87,0.99],[30.49,0.72],[30.74,0.63],[31.23,0.98],[31.48,1.1],[31.66,1.49],[31.92,2.07],[32,2.2]],
    [[28.12,0.49],[28.7,0.99],[28.84,1.25],[29.06,1.25],[29.2,1.16],[29.6,0.73],[30,0.49]],
    [[28.75,0.49],[28.99,0.61],[29.26,0.63],[29.46,0.49]],
    [[30.02,0.49],[30.05,0.52],[30.27,0.52]],
    [[31.14,0.49],[31.45,0.7],[31.66,1.25],[31.84,1.8],[31.9,2.12]]
];

// isoline labels: [lat, height km, text, angle]
var labelsC = [
    [27.98, 6.98, "332", -25], [29.75, 6.06, "328", -40], [31.76, 6.62, "324", -60], [36.25, 6.37, "320", -45], [37.51, 6.05, "316", -35],
    [36.76, 3.57, "312", -10], [35.5, 2.9, "308", -20], [34.5, 2.12, "300", 0], [33.26, 2.32, "304", -15], [34.5, 1.6, "296", -5],
    [35.48, 1.73, "292", 0], [32.44, 1.23, "296", -85], [30.03, 1.05, "316", 40], [29.5, 2, "320", -5], [30.26, 3.38, "320", 0],
    [30.71, 2.08, "320", 15], [28.24, 1.84, "324", -35], [32, 2.32, "312", -40], [33.28, 2.95, "316", -40]
];
var labelsD = [
    [28.74, 7.32, "332", -20], [30.27, 5.99, "328", -25], [31.5, 5.7, "324", -40], [28.5, 4.67, "324", -15], [34.55, 6.47, "320", -85],
    [37.28, 4.4, "316", -30], [36.23, 2.9, "312", -20], [34.25, 3.45, "320", -65], [30.96, 2.7, "324", 35], [32.48, 2.31, "316", -10],
    [33.73, 2.43, "308", 0], [33.78, 1.64, "304", 75], [34.88, 1.65, "300", -55], [36.02, 1.64, "296", 50], [28.7, 1.77, "320", -40],
    [30.25, 0.92, "316", 30], [32.08, 0.86, "304", -80]
];

var panels = [
    { id: "c", title: "(c)", titleX: 781, titleY: 52, left: 254.5, right: 1307.5, top: 71, bottom: 1040, shade: shadeC, wind: windC, theta: thetaC, labels: labelsC, yTitleX: 60, hTitleX: 1443, hTitleY: 556, barLeft: 270, barRight: 1292, barTop: 1192, barBottom: 1277, unitX: 1304, unitFont: 48, tickFont: 51, tickSqueeze: 0.92 },
    { id: "d", title: "(d)", titleX: 2429, titleY: 55, left: 1966.5, right: 2935, top: 76.5, bottom: 1042, shade: shadeD, wind: windD, theta: thetaD, labels: labelsD, yTitleX: 1780, hTitleX: 3059, hTitleY: 561, barLeft: 1981.5, barRight: 2920, barTop: 1192, barBottom: 1278, unitX: 2955, unitFont: 44, tickFont: 46, tickSqueeze: 0.93 }
];

var svg = d3.select("#chart");

function buildShadeGrid(rows) {
    var n = 53, m = levels.length;
    var values = new Array(n * m).fill(-0.5);
    rows.forEach(function (row) {
        var j = levels.indexOf(row[0]);
        var i0 = Math.round((row[1] - 27) / 0.25);
        row.slice(2).forEach(function (v, k) {
            values[i0 + k + j * n] = -v;
        });
    });
    return d3.contours().size([n, m]).thresholds(shadeThresholds)(values);
}

function expandWind(rows) {
    var out = [];
    rows.forEach(function (row) {
        row.slice(1).forEach(function (run) {
            for (var lat = run[0]; lat < run[1]; lat += 0.25) {
                out.push({ level: row[0], lat: lat, u: run[2], w: run[3] });
            }
        });
    });
    return out;
}

function arrowPath(cx, cy, u, w) {
    var len = Math.sqrt(u * u + w * w);
    var ux = len ? u / len : 1, uy = len ? -w / len : 0;
    var half = Math.max(len, 6.5) / 2;
    var tipX = cx + ux * half, tipY = cy + uy * half;
    var p = d3.path();
    if (len > 6.5) {
        p.moveTo(cx - ux * half, cy - uy * half);
        p.lineTo(tipX, tipY);
    }
    var bx = tipX - ux * 6.5, by = tipY - uy * 6.5;
    p.moveTo(tipX, tipY);
    p.lineTo(bx - uy * 2.8, by + ux * 2.8);
    p.lineTo(bx + uy * 2.8, by - ux * 2.8);
    p.closePath();
    return p.toString();
}

// the tick labels of the colour bar are tall and narrow in the original
function labelWidth(s, font) {
    var em = 0;
    s.split("").forEach(function (c) {
        em += c === "-" ? 0.333 : c === "." ? 0.278 : 0.556;
    });
    return em * font;
}

function drawPanel(cfg) {
    var g = svg.append("g").attr("class", "panel-" + cfg.id);
    var x = d3.scaleLinear().domain([27, 40]).range([cfg.left, cfg.right]);
    var z = d3.scaleLinear().domain([0.48, 9.25]).range([cfg.bottom, cfg.top]);
    // the pressure axis is not straight in height, so it goes through the level table
    var p = d3.scaleLinear().domain(levels).range(levelHeight.map(z));
    var rowHeight = d3.scaleLinear().domain(d3.range(levels.length)).range(levelHeight);

    var clipId = "clip-" + cfg.id;
    g.append("clipPath").attr("id", clipId).append("rect")
        .attr("x", cfg.left).attr("y", cfg.top)
        .attr("width", cfg.right - cfg.left).attr("height", cfg.bottom - cfg.top);

    var plot = g.append("g").attr("clip-path", "url(#" + clipId + ")");

    // shading
    var gridPath = d3.geoPath(d3.geoTransform({
        point: function (gx, gy) {
            this.stream.point(x(27 + (gx - 0.5) * 0.25), z(rowHeight(gy - 0.5)));
        }
    }));
    plot.append("g").selectAll("path").data(buildShadeGrid(cfg.shade)).enter().append("path")
        .attr("d", gridPath)
        .attr("fill", function (d, i) { return shadeFills[i]; });

    // isolines
    var line = d3.line().x(function (d) { return x(d[0]); }).y(function (d) { return z(d[1]); });
    plot.append("g").selectAll("path").data(cfg.theta).enter().append("path")
        .attr("d", line)
        .attr("fill", "none").attr("stroke", "#000").attr("stroke-width", 2.4).attr("stroke-linejoin", "round");

    // isoline labels sit in a white box over the lines
    var label = plot.append("g").selectAll("g").data(cfg.labels).enter().append("g")
        .attr("transform", function (d) { return "translate(" + x(d[0]) + "," + z(d[1]) + ") rotate(" + d[3] + ")"; });
    label.append("rect").attr("x", -27).attr("y", -16).attr("width", 54).attr("height", 32).attr("fill", "#fff");
    label.append("text").attr("text-anchor", "middle").attr("dy", "0.36em").attr("font-size", 27)
        .text(function (d) { return d[2]; });

    // wind vectors
    var arrows = expandWind(cfg.wind);
    plot.append("path")
        .attr("d", arrows.map(function (d) { return arrowPath(x(d.lat), p(d.level), d.u, d.w); }).join(""))
        .attr("fill", "#000").attr("stroke", "#000").attr("stroke-width", 1.7);

    // frame
    g.append("rect").attr("x", cfg.left).attr("y", cfg.top)
        .attr("width", cfg.right - cfg.left).attr("height", cfg.bottom - cfg.top)
        .attr("fill", "none").attr("stroke", "#444").attr("stroke-width", 2.2);

    // axes
    var axisY = g.append("g").attr("transform", "translate(" + cfg.left + ",0)")
        .call(d3.axisLeft(p).tickValues(pressureTicks).tickSize(27).tickPadding(27).tickFormat(d3.format("d")));
    var axisH = g.append("g").attr("transform", "translate(" + cfg.right + ",0)")
        .call(d3.axisRight(z).tickValues(heightTicks).tickSize(29).tickPadding(28));
    var axisX = g.append("g").attr("transform", "translate(0," + cfg.bottom + ")")
        .call(d3.axisBottom(x).tickValues(latTicks).tickSize(27).tickPadding(20)
            .tickFormat(function (d) { return d + "N"; }));
    var axisMinor = g.append("g").attr("transform", "translate(0," + cfg.bottom + ")")
        .call(d3.axisBottom(x).tickValues(latMinor).tickSize(13).tickFormat(""));
    [axisY, axisH, axisX, axisMinor].forEach(function (a) {
        a.select(".domain").remove();
        a.selectAll("line").attr("stroke", "#222").attr("stroke-width", 2);
    });
    axisMinor.selectAll("line").attr("stroke", "#888");
    axisY.selectAll("text").attr("font-size", 36);
    axisH.selectAll("text").attr("font-size", 36);
    axisX.selectAll("text").attr("font-size", 33);

    // titles
    g.append("text").attr("class", "serif").attr("x", cfg.titleX).attr("y", cfg.titleY)
        .attr("text-anchor", "middle").attr("font-size", 44).text(cfg.title);
    g.append("text").attr("transform", "translate(" + cfg.yTitleX + "," + 552 + ") rotate(-90)")
        .attr("text-anchor", "middle").attr("dy", "0.36em").attr("font-size", 62)
        .attr("textLength", 363).attr("lengthAdjust", "spacingAndGlyphs").text("pressure_level");
    g.append("text").attr("transform", "translate(" + cfg.hTitleX + "," + cfg.hTitleY + ") rotate(-90)")
        .attr("text-anchor", "middle").attr("dy", "0.36em").attr("font-size", 58)
        .attr("textLength", 278).attr("lengthAdjust", "spacingAndGlyphs").text("Height (km)");

    // colour bar
    var bar = d3.scaleLinear().domain([0, bandColors.length]).range([cfg.barLeft, cfg.barRight]);
    var barG = g.append("g");
    barG.selectAll("rect").data(bandColors).enter().append("rect")
        .attr("x", function (d, i) { return bar(i); })
        .attr("y", cfg.barTop)
        .attr("width", function (d, i) { return bar(i + 1) - bar(i); })
        .attr("height", cfg.barBottom - cfg.barTop)
        .attr("fill", function (d) { return d; })
        .attr("stroke", "#333").attr("stroke-width", 1.4);
    barG.selectAll("text").data(bandLabels).enter().append("text")
        .attr("x", function (d, i) { return bar(i + 1); })
        .attr("y", 1339)
        .attr("text-anchor", "middle").attr("font-size", cfg.tickFont)
        .attr("textLength", function (d) { return labelWidth(d, cfg.tickFont) * cfg.tickSqueeze; })
        .attr("lengthAdjust", "spacingAndGlyphs")
        .text(function (d) { return d; });
    g.append("text").attr("class", "serif").attr("x", cfg.unitX).attr("y", 1247)
        .attr("font-size", cfg.unitFont).text("m/s");
}

panels.forEach(drawPanel);
</script>
</body>
</html>
